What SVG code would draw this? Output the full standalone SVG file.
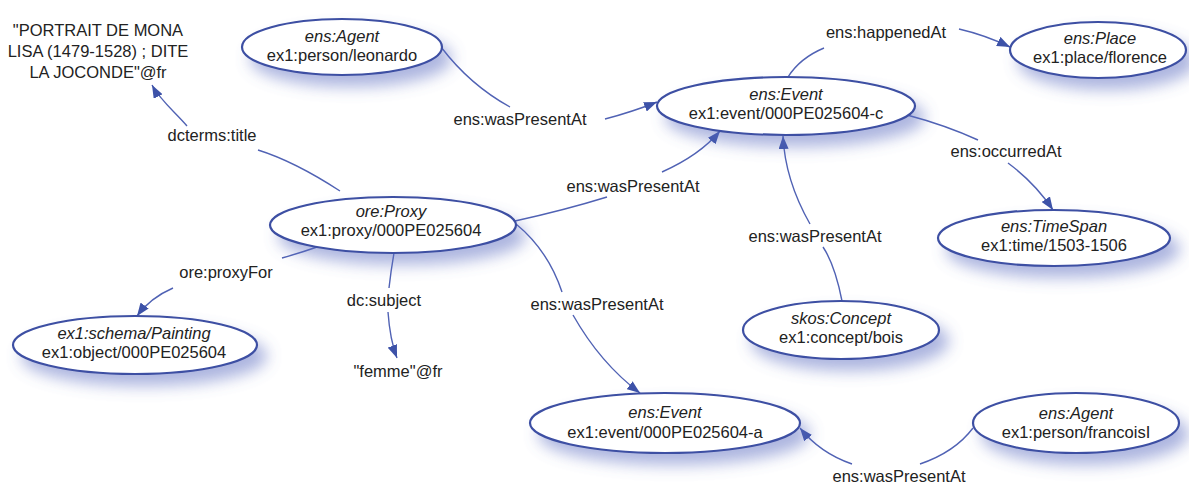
<svg xmlns="http://www.w3.org/2000/svg" width="1189" height="484" viewBox="0 0 1189 484">
<style>
  text { font-family: "Liberation Sans", Arial, sans-serif; font-size: 16.5px; fill: #222; text-anchor: middle; }
  .t { font-style: italic; }
  .node ellipse { fill: #fff; stroke: #3d4fa3; stroke-width: 2.2; filter: url(#sh); }
  .edge { fill: none; stroke: #5062b4; stroke-width: 1.4; }
  .arr { marker-end: url(#ah); }
</style>
<defs>
  <filter id="sh" x="-20%" y="-40%" width="150%" height="210%">
    <feGaussianBlur in="SourceAlpha" stdDeviation="7.5"/>
    <feOffset dx="9" dy="11" result="b"/>
    <feFlood flood-color="#5b6cc0" flood-opacity="0.5"/>
    <feComposite in2="b" operator="in"/>
    <feMerge><feMergeNode/><feMergeNode in="SourceGraphic"/></feMerge>
  </filter>
  <marker id="ah" markerUnits="userSpaceOnUse" markerWidth="14" markerHeight="10" refX="13" refY="5" orient="auto">
    <path d="M0,0 L13,5 L0,10 z" fill="#3d52a8"/>
  </marker>
</defs>
<rect width="1189" height="484" fill="#fff"/>

<g id="connectors">
  <path class="edge" d="M340,191 C320,178 290,160 258,150"/>
  <path class="edge arr" d="M187,126 C175,112 160,100 152,85"/>
  <path class="edge" d="M441,47 Q470,85 510,107"/>
  <path class="edge arr" d="M605,119 Q632,112 657,102"/>
  <path class="edge" d="M788,77 Q800,58 824,48"/>
  <path class="edge arr" d="M959,29 Q985,35 1010,47"/>
  <path class="edge" d="M907,115 Q945,125 978,140"/>
  <path class="edge arr" d="M1008,163 Q1035,183 1053,210"/>
  <path class="edge" d="M515,221 Q565,210 607,197"/>
  <path class="edge arr" d="M662,172 Q700,155 720,131"/>
  <path class="edge" d="M842,301 Q835,265 823,247"/>
  <path class="edge arr" d="M810,224 Q785,180 783,136"/>
  <path class="edge" d="M320,246 Q300,253 282,258"/>
  <path class="edge arr" d="M173,288 Q150,298 137,316"/>
  <path class="edge" d="M394,253 Q391,270 389,288"/>
  <path class="edge arr" d="M388,312 Q390,340 397,358"/>
  <path class="edge" d="M516,224 C538,242 553,265 562,292"/>
  <path class="edge arr" d="M573,315 C590,345 612,372 640,393"/>
  <path class="edge" d="M973,428 Q955,452 920,464"/>
  <path class="edge arr" d="M852,464 Q820,453 800,428"/>

  <text x="212" y="141">dcterms:title</text>
  <text x="520" y="125">ens:wasPresentAt</text>
  <text x="886" y="37.5">ens:happenedAt</text>
  <text x="1006" y="157">ens:occurredAt</text>
  <text x="633" y="192">ens:wasPresentAt</text>
  <text x="815" y="242">ens:wasPresentAt</text>
  <text x="226" y="278">ore:proxyFor</text>
  <text x="384" y="306">dc:subject</text>
  <text x="597" y="310">ens:wasPresentAt</text>
  <text x="899" y="482">ens:wasPresentAt</text>
</g>

<g id="lit-title">
  <text x="98" y="36">"PORTRAIT DE MONA</text>
  <text x="98" y="57">LISA (1479-1528) ; DITE</text>
  <text x="98" y="78">LA JOCONDE"@fr</text>
</g>
<g id="lit-femme"><text x="398" y="377">"femme"@fr</text></g>

<g id="agent-leonardo" class="node">
  <ellipse cx="342" cy="47" rx="100" ry="28"/>
  <text class="t" x="342" y="42">ens:Agent</text>
  <text x="342" y="61">ex1:person/leonardo</text>
</g>
<g id="event-c" class="node">
  <ellipse cx="786" cy="106" rx="129" ry="29"/>
  <text class="t" x="786" y="100">ens:Event</text>
  <text x="786" y="119">ex1:event/000PE025604-c</text>
</g>
<g id="place" class="node">
  <ellipse cx="1098" cy="50" rx="88" ry="28"/>
  <text class="t" x="1100" y="44">ens:Place</text>
  <text x="1100" y="63">ex1:place/florence</text>
</g>
<g id="timespan" class="node">
  <ellipse cx="1054" cy="238" rx="116" ry="28"/>
  <text class="t" x="1054" y="232">ens:TimeSpan</text>
  <text x="1054" y="251">ex1:time/1503-1506</text>
</g>
<g id="proxy" class="node">
  <ellipse cx="393" cy="225" rx="123" ry="28"/>
  <text class="t" x="391" y="217">ore:Proxy</text>
  <text x="391" y="236">ex1:proxy/000PE025604</text>
</g>
<g id="painting" class="node">
  <ellipse cx="135" cy="345" rx="122" ry="29"/>
  <text class="t" x="134" y="339">ex1:schema/Painting</text>
  <text x="134" y="358">ex1:object/000PE025604</text>
</g>
<g id="concept" class="node">
  <ellipse cx="841" cy="330" rx="98" ry="29"/>
  <text class="t" x="841" y="324">skos:Concept</text>
  <text x="841" y="343">ex1:concept/bois</text>
</g>
<g id="event-a" class="node">
  <ellipse cx="665" cy="423" rx="135" ry="30"/>
  <text class="t" x="665" y="418">ens:Event</text>
  <text x="665" y="438">ex1:event/000PE025604-a</text>
</g>
<g id="agent-francois" class="node">
  <ellipse cx="1076" cy="423" rx="103" ry="30"/>
  <text class="t" x="1076" y="419">ens:Agent</text>
  <text x="1076" y="438">ex1:person/francoisI</text>
</g>
</svg>
